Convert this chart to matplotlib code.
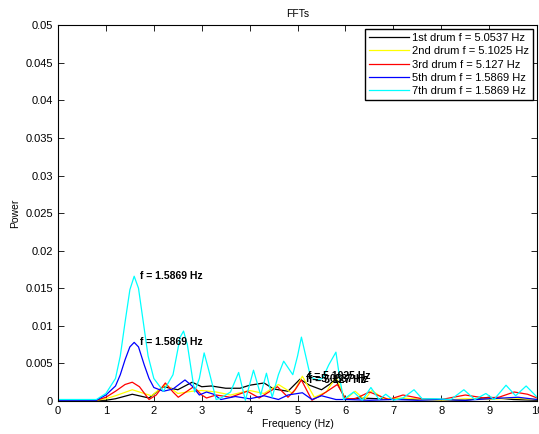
import matplotlib.pyplot as plt
import numpy as np

# spectra (frequency in Hz, power)
f_1st = [0, 1.0, 1.2, 1.55, 1.9, 2.2, 2.5, 2.8, 3.0, 3.2, 3.5, 3.8, 4.0, 4.3, 4.5,
         4.8, 5.05, 5.25, 5.5, 5.8, 6.0, 6.3, 6.7, 7.1, 7.5, 8.0, 8.5, 9.0, 9.5, 10]
p_1st = [0.0001, 0.0001, 0.0003, 0.0009, 0.0004, 0.0019, 0.0015, 0.0025, 0.0019,
         0.002, 0.0017, 0.0017, 0.0021, 0.0024, 0.0016, 0.0013, 0.0029, 0.0021,
         0.0015, 0.0028, 0.0002, 0.0004, 0.0003, 0.0003, 0.0002, 0.0002, 0.0001,
         0.0005, 0.0002, 0.0001]

f_2nd = [0, 0.8, 1.0, 1.2, 1.55, 1.95, 2.25, 2.5, 2.8, 3.0, 3.3, 3.6, 4.0, 4.3, 4.6,
         4.9, 5.1, 5.35, 5.6, 5.8, 6.0, 6.2, 6.4, 6.55, 6.8, 7.2, 7.6, 8.0, 8.5,
         9.0, 9.5, 10]
p_2nd = [0.0001, 0.0001, 0.0003, 0.0007, 0.0015, 0.0007, 0.0022, 0.001, 0.0013,
         0.0014, 0.0012, 0.0008, 0.0014, 0.001, 0.0022, 0.001, 0.0033, 0.0005,
         0.0012, 0.0032, 0.0002, 0.0013, 0.0002, 0.0014, 0.0003, 0.0004, 0.0002,
         0.0001, 0.0003, 0.0002, 0.0004, 0.0002]

f_3rd = [0, 0.8, 1.0, 1.2, 1.4, 1.55, 1.7, 1.9, 2.05, 2.24, 2.4, 2.51, 2.67, 2.83,
         3.0, 3.1, 3.3, 3.6, 3.95, 4.2, 4.58, 4.8, 4.95, 5.08, 5.3, 5.5, 5.83, 6.0,
         6.2, 6.5, 6.9, 7.2, 7.6, 8.0, 8.5, 8.9, 9.2, 9.52, 9.8, 10]
p_3rd = [0.0001, 0.0001, 0.0005, 0.0013, 0.0022, 0.0025, 0.0019, 0.0002, 0.0008,
         0.0024, 0.0012, 0.0005, 0.0012, 0.0019, 0.0008, 0.0004, 0.0008, 0.0005,
         0.0013, 0.0004, 0.0019, 0.0005, 0.0015, 0.0028, 0.0001, 0.0008, 0.0022,
         0.0003, 0.0003, 0.0012, 0.0002, 0.0008, 0.0003, 0.0002, 0.0008, 0.0004,
         0.0005, 0.0012, 0.0009, 0.0004]

f_5th = [0, 0.8, 1.0, 1.2, 1.3, 1.4, 1.5, 1.59, 1.68, 1.8, 1.9, 2.0, 2.2, 2.4,
         2.65, 2.8, 2.95, 3.1, 3.25, 3.4, 3.7, 4.0, 4.3, 4.6, 4.8, 5.1, 5.3, 5.5,
         5.8, 6.0, 6.5, 7.0, 7.5, 8.0, 8.5, 9.0, 9.6, 10]
p_5th = [0.0001, 0.0001, 0.0008, 0.002, 0.0035, 0.0055, 0.0072, 0.0078, 0.0072,
         0.0048, 0.003, 0.0018, 0.0013, 0.0016, 0.0028, 0.002, 0.0008, 0.0012,
         0.0009, 0.0002, 0.0006, 0.0003, 0.0007, 0.0002, 0.0008, 0.0011, 0.0002,
         0.0007, 0.0002, 0.0002, 0.0001, 0.0002, 0.0001, 0.0002, 0.0001, 0.0003,
         0.0005, 0.0002]

f_7th = [0, 0.5, 0.8, 1.0, 1.2, 1.3, 1.4, 1.5, 1.59, 1.68, 1.78, 1.88, 2.0, 2.2,
         2.4, 2.55, 2.62, 2.7, 2.85, 2.95, 3.05, 3.15, 3.3, 3.4, 3.6, 3.77, 3.91,
         4.08, 4.23, 4.35, 4.47, 4.6, 4.71, 4.9, 5.0, 5.08, 5.17, 5.27, 5.4, 5.52,
         5.65, 5.8, 5.88, 5.96, 6.17, 6.35, 6.53, 6.7, 6.84, 7.0, 7.2, 7.43, 7.6,
         7.9, 8.2, 8.47, 8.7, 8.93, 9.1, 9.35, 9.55, 9.77, 10]
p_7th = [0.0002, 0.0002, 0.0002, 0.001, 0.003, 0.006, 0.0105, 0.0148, 0.0166,
         0.015, 0.0105, 0.006, 0.003, 0.0013, 0.0035, 0.0085, 0.0093, 0.0075,
         0.0012, 0.003, 0.0064, 0.004, 0.0002, 0.0004, 0.0012, 0.0038, 0.0001,
         0.0041, 0.0008, 0.0037, 0.0005, 0.0035, 0.0053, 0.0035, 0.006, 0.0085,
         0.006, 0.0032, 0.0028, 0.003, 0.0048, 0.0065, 0.003, 0.0002, 0.0012,
         0.0001, 0.0018, 0.0002, 0.0009, 0.0001, 0.0004, 0.0015, 0.0003, 0.0003,
         0.0002, 0.0015, 0.0002, 0.001, 0.0002, 0.0021, 0.0007, 0.002, 0.0005]

labels = ["1st drum", "2nd drum", "3rd drum", "5th drum", "7th drum"]
peak_f = [5.0537, 5.1025, 5.127, 1.5869, 1.5869]
peak_p = [0.0029, 0.0033, 0.0028, 0.0078, 0.0166]
colors = ["black", "yellow", "red", "blue", "cyan"]

freqs = [f_1st, f_2nd, f_3rd, f_5th, f_7th]
powers = [p_1st, p_2nd, p_3rd, p_5th, p_7th]

plt.rcParams["font.family"] = ["Liberation Sans", "DejaVu Sans"]
fig = plt.figure(figsize=(5.39, 4.34), dpi=100)
ax = fig.add_axes([0.1076, 0.076, 0.889, 0.866])

for f, p, lab, pf, col in zip(freqs, powers, labels, peak_f, colors):
    ax.plot(f, p, color=col, lw=0.9, label=f"{lab} f = {pf:g} Hz")

for pf, pp in zip(peak_f, peak_p):
    ax.text(pf + 0.12, pp, f"f = {pf:g} Hz", fontsize=7.5, fontweight="bold",
            va="center", ha="left")

ax.set_xlim(0, 10)
ax.set_ylim(0, 0.05)
ax.set_xticks(np.arange(0, 11, 1))
ax.set_yticks(np.arange(0, 0.0501, 0.005))
ax.set_yticklabels(["0", "0.005", "0.01", "0.015", "0.02", "0.025", "0.03",
                    "0.035", "0.04", "0.045", "0.05"])
ax.tick_params(direction="in", top=True, right=True, labelsize=8, length=4,
               width=0.6)
for s in ax.spines.values():
    s.set_linewidth(0.8)

ax.set_xlabel("Frequency (Hz)", fontsize=7.5, labelpad=2)
ax.set_ylabel("Power", fontsize=7.5, labelpad=4)
ax.set_title("FFTs", fontsize=7.5, pad=6)

leg = ax.legend(loc="upper right", fontsize=8, fancybox=False, framealpha=1,
                edgecolor="black", handlelength=3.6, borderaxespad=0.35,
                labelspacing=0.3, borderpad=0.35, handletextpad=0.3)
leg.get_frame().set_linewidth(1.0)

fig.savefig("out.png", dpi=100)
